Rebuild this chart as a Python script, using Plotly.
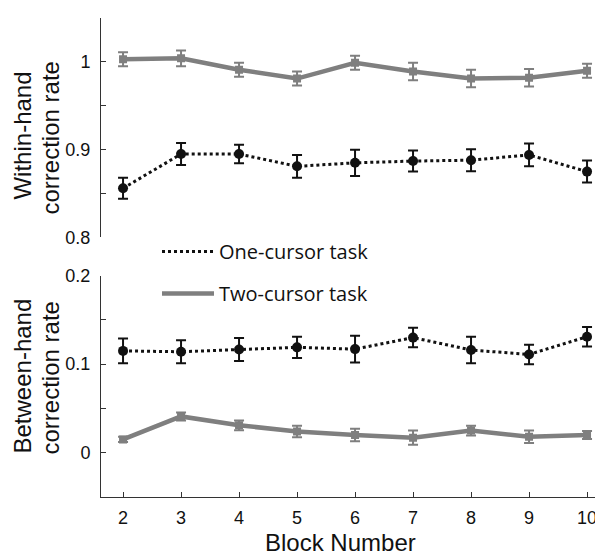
import plotly.graph_objects as go
from plotly.subplots import make_subplots

blocks = [2, 3, 4, 5, 6, 7, 8, 9, 10]

within_one = [0.856, 0.895, 0.895, 0.881, 0.885, 0.887, 0.888, 0.894, 0.875]
within_one_err = [0.012, 0.0125, 0.0105, 0.013, 0.015, 0.012, 0.0125, 0.013, 0.0125]
within_two = [1.003, 1.004, 0.991, 0.981, 0.999, 0.989, 0.981, 0.982, 0.990]
within_two_err = [0.008, 0.009, 0.008, 0.008, 0.008, 0.010, 0.010, 0.010, 0.008]

between_one = [0.115, 0.114, 0.1165, 0.119, 0.117, 0.130, 0.116, 0.111, 0.131]
between_one_err = [0.014, 0.013, 0.013, 0.012, 0.015, 0.011, 0.015, 0.011, 0.011]
between_two = [0.015, 0.041, 0.031, 0.024, 0.020, 0.017, 0.025, 0.018, 0.020]
between_two_err = [0.003, 0.0045, 0.0055, 0.0065, 0.007, 0.008, 0.0055, 0.007, 0.0045]

top_ticks = [0.8, 0.85, 0.9, 0.95, 1.0, 1.05]
top_labels = ["0.8", "", "0.9", "", "1", ""]
bot_ticks = [-0.05, 0.0, 0.05, 0.1, 0.15, 0.2]
bot_labels = ["", "0", "", "0.1", "", "0.2"]

GRAY = "#7f7f7f"
BLACK = "#111111"
FONT = "Liberation Sans"

fig = make_subplots(rows=2, cols=1, vertical_spacing=0.08)

def add_pair(one, one_err, two, two_err, row):
    fig.add_trace(go.Scatter(
        x=blocks, y=two, mode="lines+markers", name="Two-cursor task",
        line=dict(color=GRAY, width=4.5), marker=dict(color=GRAY, size=8, symbol="square"),
        error_y=dict(type="data", array=two_err, color=GRAY, thickness=2, width=5),
        showlegend=False), row=row, col=1)
    fig.add_trace(go.Scatter(
        x=blocks, y=one, mode="lines+markers", name="One-cursor task",
        line=dict(color=BLACK, width=3, dash="dot"), marker=dict(color=BLACK, size=10),
        error_y=dict(type="data", array=one_err, color=BLACK, thickness=2, width=5),
        showlegend=False), row=row, col=1)

add_pair(within_one, within_one_err, within_two, within_two_err, 1)
add_pair(between_one, between_one_err, between_two, between_two_err, 2)

# legend entries (line only)
fig.add_trace(go.Scatter(x=[None], y=[None], mode="lines", name="One-cursor task",
                         line=dict(color=BLACK, width=3, dash="dot"),
                         legendgroup="one", legendrank=1), row=1, col=1)
fig.add_trace(go.Scatter(x=[None], y=[None], mode="lines", name="Two-cursor task",
                         line=dict(color=GRAY, width=4.5),
                         legendgroup="two", legendrank=2), row=1, col=1)

# page body has an 8px margin -> figure is 8px smaller than the window
W, H = 595, 552
ml, mr, mt, mb = 93, 0, 0, 63
ph = H - mt - mb
pw = W - ml - mr
top_dom = [(489 - 224) / ph, 1.0]
bot_dom = [0.0, (489 - 263) / ph]

unit = 58.0
xrange_ = [1.62, 1.62 + pw / unit]
axis_common = dict(ticks="inside", ticklen=5, tickcolor="#333", showline=True,
                   linecolor="#333", linewidth=1, showgrid=False, zeroline=False,
                   tickfont=dict(size=18, family=FONT, color="#111"))
fig.update_layout(
    width=W, height=H,
    margin=dict(l=ml, r=mr, t=mt, b=mb),
    plot_bgcolor="white", paper_bgcolor="white",
    font=dict(family=FONT, size=18, color="#111"),
    legend=dict(x=(149 - ml) / pw, y=0.553, xanchor="left", yanchor="top",
                traceorder="grouped", tracegroupgap=13, itemwidth=52,
                font=dict(family="Open Sans", size=20, color="#111"),
                bgcolor="rgba(0,0,0,0)"),
    xaxis=dict(domain=[0, 1], range=xrange_, visible=False, anchor="y"),
    yaxis=dict(domain=top_dom, range=[0.8, 1.05], tickvals=top_ticks, ticktext=top_labels,
               ticklabelstandoff=6, **axis_common),
    xaxis2=dict(domain=[0, 1], range=xrange_, tickvals=blocks, anchor="y2",
                ticklabelstandoff=4, **axis_common),
    yaxis2=dict(domain=bot_dom, range=[-0.05, 0.2], tickvals=bot_ticks, ticktext=bot_labels,
                anchor="x2", ticklabelstandoff=6, **axis_common),
)

def label(text, xpx, ypx, angle, yanchor="middle"):
    fig.add_annotation(text=text, xref="paper", yref="paper",
                       x=(xpx - ml) / pw, xanchor="center",
                       y=(ph - (ypx - mt)) / ph, yanchor=yanchor,
                       textangle=angle, showarrow=False,
                       font=dict(size=24, family=FONT, color="#111"))

label("Within-hand", 15, 120, -90)
label("correction rate", 42, 123, -90)
label("Between-hand", 15, 366, -90)
label("correction rate", 42, 368, -90)
label("Block Number", 332, 551.5, 0, yanchor="bottom")

fig.write_html("out.html")
